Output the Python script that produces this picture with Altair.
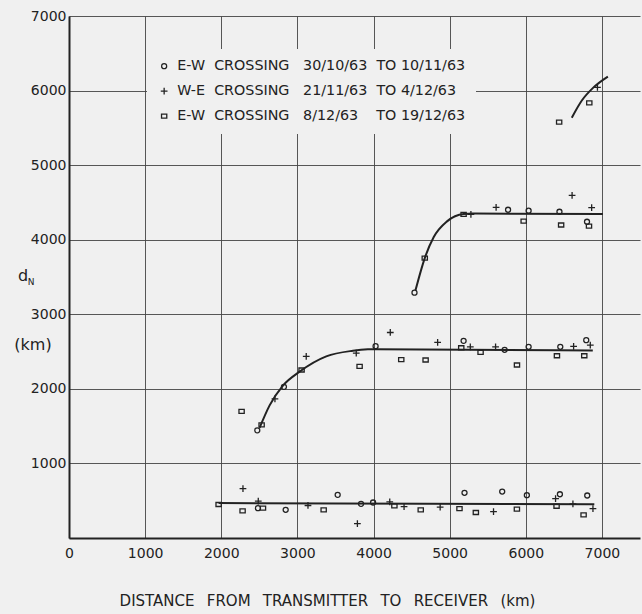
import altair as alt
import pandas as pd

NB = "\u00a0"
GAP = "\u2002" + NB

# ---- data ----
ser_names = [
    "E-W" + NB * 2 + "CROSSING" + NB * 3 + "30/10/63" + NB * 2 + "TO" + NB + "10/11/63" + NB * 6,
    "W-E" + NB * 2 + "CROSSING" + NB * 3 + "21/11/63" + NB * 2 + "TO" + NB + "4/12/63" + NB * 6,
    "E-W" + NB * 2 + "CROSSING" + NB * 3 + "8/12/63" + NB * 4 + "TO" + NB + "19/12/63" + NB * 6,
]

x_title = GAP.join(["DISTANCE", "FROM", "TRANSMITTER", "TO", "RECEIVER", "(km)"])

circ_x = [2482, 2846, 3529, 3836, 3994, 5195, 5690, 6014, 6448, 6807,
          2473, 2823, 4027, 5183, 5722, 6037, 6453, 6794,
          4538, 5767, 6037, 6442, 6804]
circ_y = [400, 378, 579, 458, 476, 606, 623, 574, 587, 570,
          1444, 2027, 2573, 2644, 2524, 2564, 2564, 2653,
          3290, 4402, 4389, 4375, 4241]

plus_x = [2285, 2486, 3139, 3788, 4213, 4401, 4875, 5576, 6391, 6619, 6882,
          2705, 3116, 3773, 4220, 4842, 5271, 5603, 6628, 6847,
          5279, 5610, 6608, 6865,
          6941]
plus_y = [663, 494, 436, 194, 485, 422, 413, 355, 529, 458, 395,
          1867, 2436, 2480, 2756, 2622, 2564, 2564, 2569, 2587,
          4340, 4433, 4594, 4429,
          6044]

sq_x = [1965, 2280, 2548, 3345, 4274, 4620, 5129, 5344, 5883, 6404, 6759,
        2267, 2530, 3055, 3817, 4364, 4684, 5152, 5406, 5884, 6409, 6768,
        4673, 5183, 5972, 6464, 6830,
        6438, 6834]
sq_y = [449, 364, 400, 378, 431, 378, 395, 342, 386, 426, 311,
        1698, 1516, 2253, 2302, 2391, 2387, 2551, 2489, 2320, 2444, 2444,
        3754, 4340, 4250, 4197, 4183,
        5578, 5836]

# fitted curves drawn by hand in the reference
c1_x = [1965, 6900]
c1_y = [468, 452]
c2_x = [2503, 2635, 2810, 3029, 3379, 3729, 3926, 4030, 6880]
c2_y = [1476, 1778, 2044, 2231, 2436, 2511, 2530, 2532, 2515]
c3_x = [4551, 4673, 4791, 4965, 5183, 5300, 7013]
c3_y = [3321, 3754, 4036, 4246, 4345, 4350, 4345]
c4_x = [6604, 6736, 6883, 7078]
c4_y = [5636, 5867, 6036, 6187]

x_ticks = [0, 1000, 2000, 3000, 4000, 5000, 6000, 7000]
y_ticks = [1000, 2000, 3000, 4000, 5000, 6000, 7000]

# ---- tables ----
pts = pd.concat([
    pd.DataFrame({"x": circ_x, "y": circ_y, "s": ser_names[0]}),
    pd.DataFrame({"x": plus_x, "y": plus_y, "s": ser_names[1]}),
    pd.DataFrame({"x": sq_x, "y": sq_y, "s": ser_names[2]}),
], ignore_index=True)

curves = pd.concat([
    pd.DataFrame({"x": c1_x, "y": c1_y, "c": "a"}),
    pd.DataFrame({"x": c2_x, "y": c2_y, "c": "b"}),
    pd.DataFrame({"x": c3_x, "y": c3_y, "c": "c"}),
    pd.DataFrame({"x": c4_x, "y": c4_y, "c": "d"}),
], ignore_index=True)

BG = "#f0f0f0"
INK = "#222222"
FONT = "DejaVu Sans"

xs = alt.Scale(domain=[0, 7500], nice=False, zero=False)
ys = alt.Scale(domain=[0, 7000], nice=False, zero=False)

x_axis = alt.Axis(values=x_ticks, grid=True, ticks=False, labelPadding=8,
                  format="d", labelFlush=False,
                  title=x_title, titleFontSize=15, titleX=258,
                  titleAlign="center", titlePadding=33)
y_axis = alt.Axis(values=y_ticks, grid=True, ticks=False, labelPadding=3,
                  format="d", labelFlush=False, title=None)

lines = alt.Chart(curves).mark_line(
    color=INK, strokeWidth=2, interpolate="monotone"
).encode(
    x=alt.X("x:Q", scale=xs, axis=x_axis),
    y=alt.Y("y:Q", scale=ys, axis=y_axis),
    detail="c:N",
)

plus_path = "M-1.35,0L1.35,0M0,-1.35L0,1.35"
sq_path = "M-1.05,-0.8L1.05,-0.8L1.05,0.8L-1.05,0.8Z"

points = alt.Chart(pts).mark_point(
    filled=False, color=INK, strokeWidth=1.3, size=25, opacity=1
).encode(
    x=alt.X("x:Q", scale=xs),
    y=alt.Y("y:Q", scale=ys),
    shape=alt.Shape(
        "s:N",
        scale=alt.Scale(domain=ser_names, range=["circle", plus_path, sq_path]),
        legend=alt.Legend(
            title=None, orient="none", legendX=78, legendY=33,
            padding=10, fillColor=BG, rowPadding=10, labelOffset=6,
            labelFont=FONT, labelFontSize=14.3, labelColor=INK,
            symbolStrokeColor=INK, symbolStrokeWidth=1.3, symbolSize=25,
            symbolFillColor="transparent", labelLimit=500,
        ),
    ),
)

t_d = alt.Chart(pd.DataFrame({"t": ["d"]})).mark_text(
    font=FONT, fontSize=16, color=INK, align="center", baseline="alphabetic"
).encode(x=alt.value(-46), y=alt.value(265), text="t:N")
t_n = alt.Chart(pd.DataFrame({"t": ["N"]})).mark_text(
    font=FONT, fontSize=9, color=INK, align="center", baseline="alphabetic"
).encode(x=alt.value(-38), y=alt.value(269), text="t:N")
t_km = alt.Chart(pd.DataFrame({"t": ["(km)"]})).mark_text(
    font=FONT, fontSize=16, color=INK, align="center", baseline="middle"
).encode(x=alt.value(-36), y=alt.value(329), text="t:N")

chart = alt.layer(lines, points, t_d, t_n, t_km).properties(
    width=571, height=522,
    autosize=alt.AutoSizeParams(type="none"),
    padding={"left": 69, "top": 16, "right": 2, "bottom": 76},
    background=BG,
).configure_view(
    stroke=None
).configure_axis(
    domainColor=INK, domainWidth=2, gridColor="#444444", gridWidth=0.9,
    gridOpacity=1, labelFont=FONT, labelFontSize=14, labelColor=INK,
    titleFont=FONT, titleFontSize=14, titleColor=INK, titleFontWeight="normal",
)

chart.save("out.html", embed_options={"renderer": "svg", "actions": False})
